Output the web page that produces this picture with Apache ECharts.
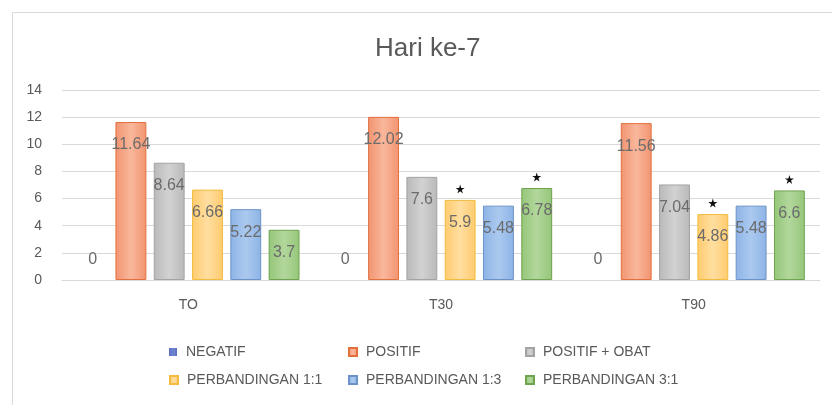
<!DOCTYPE html>
<html>
<head>
<meta charset="utf-8">
<script src="https://cdn.jsdelivr.net/npm/echarts@6/dist/echarts.min.js"></script>
<style>
  html, body { margin: 0; padding: 0; background: #fff; }
  #main { width: 832px; height: 405px; }
</style>
</head>
<body>
<div id="main"></div>
<script>
// data
var categories = ["TO", "T30", "T90"];
var seriesNames = ["NEGATIF", "POSITIF", "POSITIF + OBAT", "PERBANDINGAN 1:1", "PERBANDINGAN 1:3", "PERBANDINGAN 3:1"];
var negatif = [0, 0, 0];
var positif = [11.64, 12.02, 11.56];
var positifObat = [8.64, 7.6, 7.04];
var perb11 = [6.66, 5.9, 4.86];
var perb13 = [5.22, 5.48, 5.48];
var perb31 = [3.7, 6.78, 6.6];
var yTicks = [0, 2, 4, 6, 8, 10, 12, 14];
// categories that carry a star above the 1:1 and 3:1 bars
var starred = ["T30", "T90"];

var values = [negatif, positif, positifObat, perb11, perb13, perb31];
// [edge, middle, border]
var palette = [
  ["#5b6fc4", "#7385d0", "#4a5fb0"],
  ["#f29470", "#f9b79b", "#e2703f"],
  ["#b9b9b9", "#d2d2d2", "#a3a3a3"],
  ["#ffcb6e", "#ffdea0", "#f2bd3f"],
  ["#8db4e6", "#abc9ef", "#6c93c7"],
  ["#95c679", "#b2d79c", "#6fa34f"]
];

var starPath = "path://M50,0 L61,35 L98,35 L68,57 L79,91 L50,70 L21,91 L32,57 L2,35 L39,35 Z";
var textColor = "#595959";

var chart = echarts.init(document.getElementById("main"));

var series = seriesNames.map(function (name, i) {
  var c = palette[i];
  var s = {
    name: name,
    type: "bar",
    data: values[i],
    barGap: "24%",
    barCategoryGap: "12%",
    itemStyle: {
      color: new echarts.graphic.LinearGradient(0, 0, 1, 0, [
        { offset: 0, color: c[0] },
        { offset: 0.5, color: c[1] },
        { offset: 1, color: c[0] }
      ]),
      borderColor: c[2],
      borderWidth: i === 0 ? 0 : 1
    },
    label: {
      show: true,
      position: i === 0 ? "top" : "insideTop",
      distance: i === 0 ? 12 : 15,
      color: "#6b6b6b",
      fontSize: 16
    }
  };
  if (i === 3 || i === 5) {
    s.markPoint = {
      symbol: starPath,
      symbolSize: 9,
      symbolOffset: [0, -11],
      itemStyle: { color: "#111" },
      label: { show: false },
      data: starred.map(function (cat) {
        return { coord: [cat, values[i][categories.indexOf(cat)]] };
      })
    };
  }
  return s;
});

// three columns, two rows like the Excel legend
var legendCols = [169, 348, 525];
var legendRows = [345, 373];
var legends = seriesNames.map(function (name, i) {
  return {
    left: legendCols[i % 3],
    top: legendRows[Math.floor(i / 3)],
    padding: 0,
    itemWidth: 8,
    itemHeight: 8,
    icon: "rect",
    data: [name],
    textStyle: { color: textColor, fontSize: 14, padding: [0, 0, 0, 4] }
  };
});

chart.setOption({
  animation: false,
  title: {
    text: "Hari ke-7",
    left: 370,
    top: 31,
    textStyle: {
      color: textColor,
      fontSize: 26,
      fontWeight: "normal"
    }
  },
  graphic: [{
    type: "rect",
    shape: { x: 12.5, y: 12.5, width: 830, height: 400 },
    style: { fill: "none", stroke: "#d9d9d9", lineWidth: 1 }
  }],
  legend: legends,
  grid: { left: 62, right: 12, top: 90, bottom: 125 },
  xAxis: {
    type: "category",
    data: categories,
    axisLine: { lineStyle: { color: "#d9d9d9" } },
    axisTick: { show: false },
    axisLabel: { color: textColor, fontSize: 14, margin: 18 }
  },
  yAxis: {
    type: "value",
    min: yTicks[0],
    max: yTicks[yTicks.length - 1],
    interval: 2,
    axisLine: { show: false },
    axisTick: { show: false },
    splitLine: { lineStyle: { color: "#d9d9d9" } },
    axisLabel: { color: textColor, fontSize: 14, margin: 20 }
  },
  series: series
});
</script>
</body>
</html>
